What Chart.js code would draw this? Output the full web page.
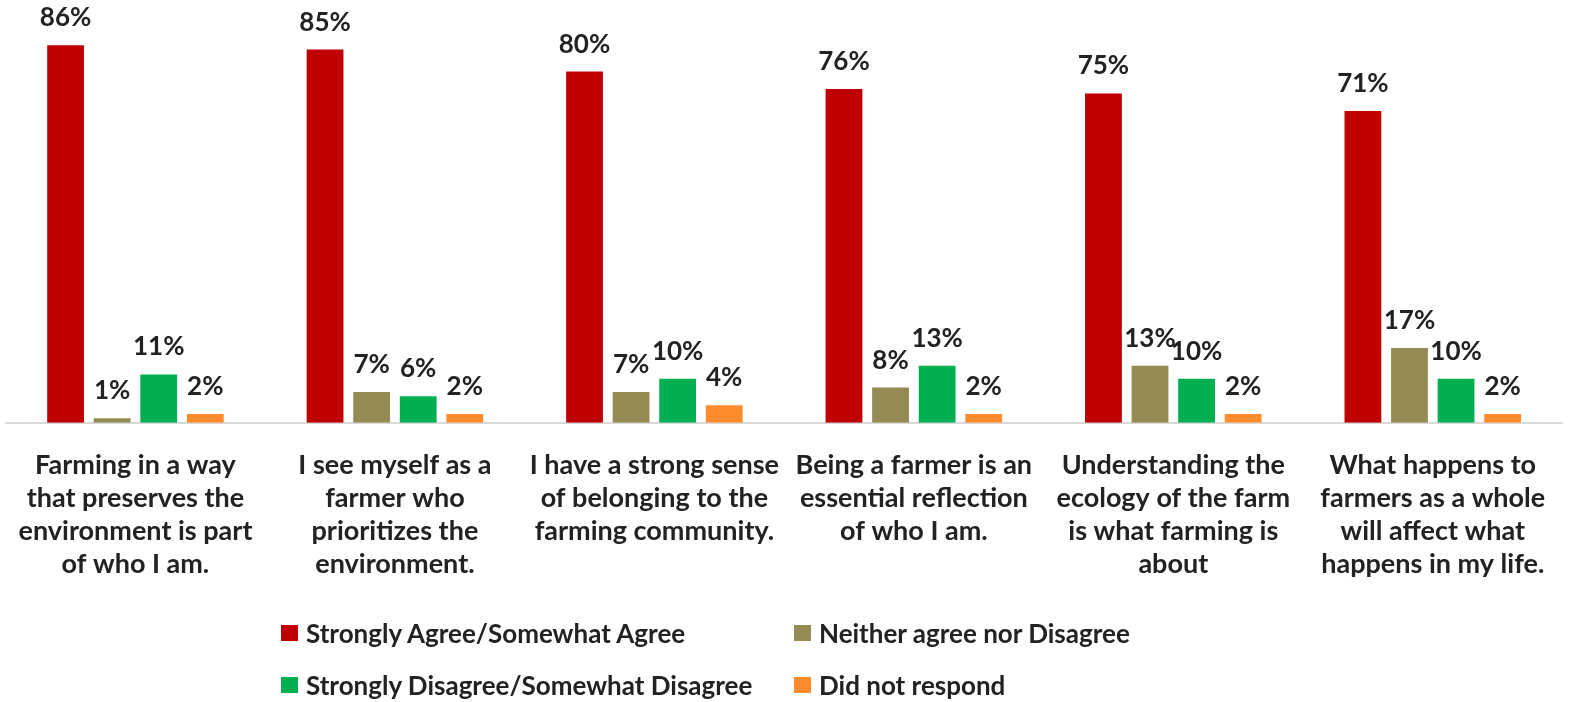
<!DOCTYPE html>
<html>
<head>
<meta charset="utf-8">
<script src="https://cdn.jsdelivr.net/npm/chart.js@4.4.0/dist/chart.umd.min.js"></script>
<style>
  html, body { margin: 0; padding: 0; background: #fff; }
  #wrap { position: relative; width: 1570px; height: 702px; }
  #legend { position: absolute; left: 0; top: 0; width: 100%; height: 100%; pointer-events: none;
            font-family: Lato, "Noto Sans", sans-serif; font-weight: bold; font-size: 26px; color: #222; }
  .item { position: absolute; white-space: nowrap; line-height: 26px; }
  .box { position: absolute; width: 17px; height: 16px; left: 0; top: 5px; }
  .item span { position: absolute; left: 25px; top: 0; }
</style>
</head>
<body>
<div id="wrap">
  <canvas id="farmChart" width="1570" height="702"></canvas>
  <div id="legend"></div>
</div>
<script>
var categories = [
    ['Farming in a way', 'that preserves the', 'environment is part', 'of who I am.'],
    ['I see myself as a', 'farmer who', 'prioritizes the', 'environment.'],
    ['I have a strong sense', 'of belonging to the', 'farming community.'],
    ['Being a farmer is an', 'essential reflection', 'of who I am.'],
    ['Understanding the', 'ecology of the farm', 'is what farming is', 'about'],
    ['What happens to', 'farmers as a whole', 'will affect what', 'happens in my life.']
];
var seriesNames = ['Strongly Agree/Somewhat Agree', 'Neither agree nor Disagree',
                   'Strongly Disagree/Somewhat Disagree', 'Did not respond'];
var agree = [86, 85, 80, 76, 75, 71];
var neither = [1, 7, 7, 8, 13, 17];
var disagree = [11, 6, 10, 13, 10, 10];
var noResponse = [2, 2, 4, 2, 2, 2];
var colors = ['#C00000', '#948A54', '#00B050', '#FF8B2C'];

var labelFont = 'Lato, "Noto Sans", sans-serif';

// value labels above each bar
var valueLabels = {
    id: 'valueLabels',
    afterDatasetsDraw: function(chart) {
        var ctx = chart.ctx;
        ctx.save();
        ctx.font = 'bold 26px ' + labelFont;
        ctx.fillStyle = '#222';
        ctx.textAlign = 'center';
        ctx.textBaseline = 'alphabetic';
        chart.data.datasets.forEach(function(ds, i) {
            chart.getDatasetMeta(i).data.forEach(function(bar, j) {
                ctx.fillText(ds.data[j] + '%', bar.x, bar.y - 19);
            });
        });
        ctx.restore();
    }
};

var allSeries = [agree, neither, disagree, noResponse];
var ctx = document.getElementById('farmChart').getContext('2d');
var farmChart = new Chart(ctx, {
    type: 'bar',
    data: {
        labels: categories,
        datasets: allSeries.map(function(values, i) {
            return {
                label: seriesNames[i],
                data: values,
                backgroundColor: colors[i],
                borderWidth: 0,
                categoryPercentage: 0.718,
                barPercentage: 0.79
            };
        })
    },
    options: {
        responsive: false,
        animation: false,
        layout: { padding: { top: 27.6, bottom: 99.3, left: 5.5, right: 7.5 } },
        plugins: {
            legend: { display: false },
            tooltip: { enabled: false }
        },
        scales: {
            y: {
                display: false,
                min: 0,
                max: 90
            },
            x: {
                grid: { display: false },
                border: { display: true, color: '#D9D9D9', width: 2 },
                ticks: {
                    autoSkip: false,
                    maxRotation: 0,
                    padding: 18,
                    color: '#222',
                    font: { family: labelFont, size: 27, weight: 'bold', lineHeight: 1.222 }
                },
                afterFit: function(scale) { scale.height = 180; }
            }
        }
    },
    plugins: [valueLabels]
});

// two-column legend under the chart
var legendPos = [
    { left: 281, top: 620 }, { left: 794, top: 620 },
    { left: 281, top: 672 }, { left: 794, top: 672 }
];
var legend = document.getElementById('legend');
seriesNames.forEach(function(name, i) {
    var item = document.createElement('div');
    item.className = 'item';
    item.style.left = legendPos[i].left + 'px';
    item.style.top = legendPos[i].top + 'px';
    item.innerHTML = '<div class="box" style="background:' + colors[i] + '"></div><span>' + name + '</span>';
    legend.appendChild(item);
});
</script>
</body>
</html>
